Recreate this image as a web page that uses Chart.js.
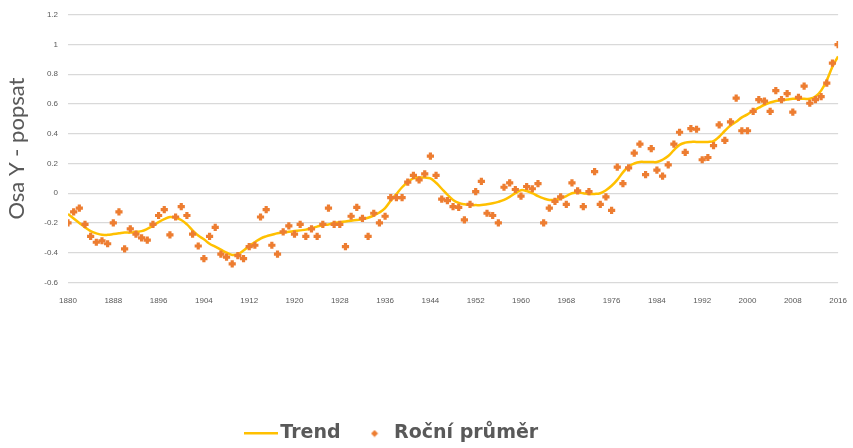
<!DOCTYPE html>
<html>
<head>
<meta charset="utf-8">
<script src="https://cdn.jsdelivr.net/npm/chart.js@4.4.1/dist/chart.umd.min.js"></script>
<style>
  html, body { margin: 0; padding: 0; background: #fff; }
  #wrap { width: 853px; height: 448px; }
</style>
</head>
<body>
<div id="wrap"><canvas id="tempChart"></canvas></div>
<script>
'use strict';

// roky (osa X)
var years = [
  1880, 1881, 1882, 1883, 1884, 1885, 1886, 1887, 1888, 1889,
  1890, 1891, 1892, 1893, 1894, 1895, 1896, 1897, 1898, 1899,
  1900, 1901, 1902, 1903, 1904, 1905, 1906, 1907, 1908, 1909,
  1910, 1911, 1912, 1913, 1914, 1915, 1916, 1917, 1918, 1919,
  1920, 1921, 1922, 1923, 1924, 1925, 1926, 1927, 1928, 1929,
  1930, 1931, 1932, 1933, 1934, 1935, 1936, 1937, 1938, 1939,
  1940, 1941, 1942, 1943, 1944, 1945, 1946, 1947, 1948, 1949,
  1950, 1951, 1952, 1953, 1954, 1955, 1956, 1957, 1958, 1959,
  1960, 1961, 1962, 1963, 1964, 1965, 1966, 1967, 1968, 1969,
  1970, 1971, 1972, 1973, 1974, 1975, 1976, 1977, 1978, 1979,
  1980, 1981, 1982, 1983, 1984, 1985, 1986, 1987, 1988, 1989,
  1990, 1991, 1992, 1993, 1994, 1995, 1996, 1997, 1998, 1999,
  2000, 2001, 2002, 2003, 2004, 2005, 2006, 2007, 2008, 2009,
  2010, 2011, 2012, 2013, 2014, 2015, 2016
];

// Roční průměr
var annualMean = [
  -0.20, -0.125, -0.10, -0.21, -0.29, -0.33, -0.32, -0.34, -0.20, -0.125,
  -0.375, -0.24, -0.275, -0.30, -0.315, -0.21, -0.15, -0.11, -0.28, -0.16,
  -0.09, -0.15, -0.275, -0.355, -0.44, -0.29, -0.23, -0.41, -0.43, -0.475,
  -0.42, -0.44, -0.36, -0.35, -0.16, -0.11, -0.35, -0.41, -0.26, -0.22,
  -0.275, -0.21, -0.29, -0.24, -0.29, -0.21, -0.10, -0.21, -0.21, -0.36,
  -0.155, -0.095, -0.17, -0.29, -0.135, -0.20, -0.155, -0.03, -0.03, -0.03,
  0.075, 0.12, 0.09, 0.13, 0.25, 0.12, -0.04, -0.05, -0.09, -0.095,
  -0.18, -0.075, 0.01, 0.08, -0.135, -0.15, -0.20, 0.04, 0.07, 0.025,
  -0.02, 0.045, 0.03, 0.065, -0.20, -0.10, -0.055, -0.025, -0.075, 0.07,
  0.015, -0.09, 0.01, 0.145, -0.075, -0.025, -0.115, 0.175, 0.065, 0.17,
  0.27, 0.33, 0.125, 0.30, 0.155, 0.115, 0.19, 0.33, 0.41, 0.275,
  0.435, 0.43, 0.225, 0.24, 0.32, 0.46, 0.355, 0.48, 0.64, 0.42,
  0.42, 0.55, 0.63, 0.62, 0.55, 0.69, 0.63, 0.67, 0.545, 0.645,
  0.72, 0.605, 0.63, 0.65, 0.74, 0.875, 1.00
];

// Trend (vyhlazená křivka)
var trend = [
  -0.14, -0.17, -0.20, -0.23, -0.255, -0.27, -0.28, -0.28, -0.275, -0.27,
  -0.265, -0.265, -0.26, -0.255, -0.24, -0.22, -0.195, -0.175, -0.16, -0.165,
  -0.18, -0.21, -0.25, -0.285, -0.31, -0.34, -0.36, -0.38, -0.40, -0.415,
  -0.41, -0.385, -0.355, -0.33, -0.305, -0.29, -0.28, -0.27, -0.265, -0.26,
  -0.255, -0.25, -0.245, -0.235, -0.225, -0.215, -0.21, -0.20, -0.195, -0.19,
  -0.185, -0.18, -0.175, -0.165, -0.15, -0.13, -0.10, -0.05, -0.005, 0.04,
  0.075, 0.10, 0.105, 0.105, 0.10, 0.07, 0.03, -0.01, -0.045, -0.065,
  -0.075, -0.08, -0.08, -0.08, -0.075, -0.068, -0.058, -0.045, -0.025, 0.0,
  0.02, 0.015, 0.0, -0.02, -0.035, -0.045, -0.045, -0.035, -0.02, 0.0,
  0.005, 0.0, -0.005, -0.005, 0.0, 0.02, 0.05, 0.09, 0.14, 0.18,
  0.20, 0.21, 0.21, 0.21, 0.21, 0.225, 0.25, 0.29, 0.325, 0.34,
  0.345, 0.345, 0.345, 0.345, 0.35, 0.38, 0.42, 0.455, 0.48, 0.51,
  0.53, 0.555, 0.575, 0.595, 0.61, 0.62, 0.625, 0.63, 0.635, 0.635,
  0.635, 0.635, 0.65, 0.69, 0.76, 0.85, 0.92
];

var xTicks = { min: 1880, max: 2016, step: 8 };
var yTicks = { min: -0.6, max: 1.2, step: 0.2 };

var orange = '#ED7D31';
var gold = '#FFC000';
var grey = '#595959';

function toPoints(values) {
  return years.map(function (yr, i) { return { x: yr, y: values[i] }; });
}

// malé obrázky pro legendu
function legendLine() {
  var c = document.createElement('canvas');
  c.width = 34; c.height = 3;
  var g = c.getContext('2d');
  g.fillStyle = gold;
  g.fillRect(0, 0, 34, 2.5);
  return c;
}
function legendDot() {
  var c = document.createElement('canvas');
  c.width = 8; c.height = 8;
  var g = c.getContext('2d');
  g.fillStyle = orange;
  g.beginPath();
  g.moveTo(4, 0.5); g.lineTo(7.5, 4); g.lineTo(4, 7.5); g.lineTo(0.5, 4);
  g.closePath(); g.fill();
  return c;
}

// legenda je v originále posunutá doleva a trochu níž
var legendShift = {
  id: 'legendShift',
  afterLayout: function (ch) {
    ch.legend.left -= 29;
    ch.legend.right -= 29;
    ch.legend.top += 5;
    ch.legend.bottom += 5;
  }
};

var ctx = document.getElementById('tempChart').getContext('2d');
var chart = new Chart(ctx, {
  type: 'scatter',
  data: {
    datasets: [{
      label: 'Trend',
      type: 'line',
      data: toPoints(trend),
      borderColor: gold,
      backgroundColor: gold,
      borderWidth: 2.5,
      pointRadius: 0,
      tension: 0.4,
      order: 1
    }, {
      label: 'Roční průměr',
      data: toPoints(annualMean),
      pointStyle: 'cross',
      pointRadius: 3.6,
      borderWidth: 3.2,
      borderColor: orange,
      backgroundColor: orange,
      order: 0
    }]
  },
  plugins: [legendShift],
  options: {
    responsive: true,
    maintainAspectRatio: false,
    animation: false,
    layout: { padding: { top: 8, right: 6, left: 0, bottom: 0 } },
    plugins: {
      tooltip: { enabled: false },
      legend: {
        position: 'bottom',
        labels: {
          usePointStyle: true,
          pointStyleWidth: 20,
          padding: 24,
          color: grey,
          font: { family: 'DejaVu Sans', size: 19, weight: 'bold' },
          generateLabels: function (ch) {
            var icons = [legendLine(), legendDot()];
            return ch.data.datasets.map(function (ds, i) {
              return {
                text: ds.label,
                datasetIndex: i,
                pointStyle: icons[i],
                fontColor: grey,
                hidden: false,
                lineWidth: 0
              };
            });
          }
        }
      }
    },
    scales: {
      x: {
        type: 'linear',
        min: xTicks.min,
        max: xTicks.max,
        ticks: {
          stepSize: xTicks.step,
          color: grey,
          font: { family: 'Liberation Sans', size: 8 },
          maxRotation: 0,
          padding: 6,
          callback: function (v) { return String(v); }
        },
        grid: { display: false },
        border: { display: false },
        afterFit: function (scale) { scale.height += 83; }
      },
      y: {
        min: yTicks.min,
        max: yTicks.max,
        ticks: {
          stepSize: yTicks.step,
          color: grey,
          font: { family: 'Liberation Sans', size: 8 },
          padding: 10,
          callback: function (v) { return String(Math.round(v * 10) / 10); }
        },
        grid: { color: '#D9D9D9', lineWidth: 1.3, drawTicks: false },
        border: { display: false },
        title: {
          display: true,
          text: 'Osa Y - popsat',
          color: grey,
          font: { family: 'Lato', size: 22 },
          padding: { top: 4, bottom: 4 }
        },
        afterFit: function (scale) { scale.width = 68; }
      }
    }
  }
});
</script>
</body>
</html>
